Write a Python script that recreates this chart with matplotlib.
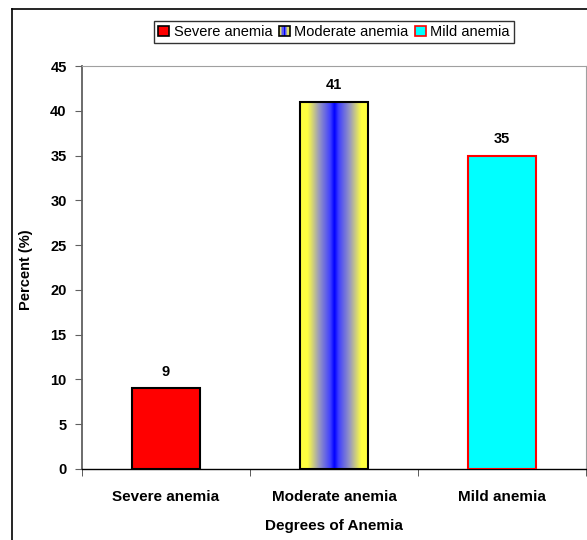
import numpy as np
import matplotlib
matplotlib.use("Agg")
import matplotlib.pyplot as plt
from matplotlib.patches import Rectangle
from matplotlib.lines import Line2D
from matplotlib.legend_handler import HandlerBase
from matplotlib.colors import LinearSegmentedColormap

categories = ["Severe anemia", "Moderate anemia", "Mild anemia"]
values = [9, 41, 35]
yticks = [0, 5, 10, 15, 20, 25, 30, 35, 40, 45]

plt.rcParams['font.family'] = ['Liberation Sans', 'DejaVu Sans']

fig = plt.figure(figsize=(5.87, 5.40), dpi=100)
ax = fig.add_axes([82/587, (540-469)/540, 504/587, (469-66)/540])

x = np.arange(len(categories))
width = 0.41
yellow = (1.0, 1.0, 0.25)
blue = (0.0, 0.0, 1.0)
cmap = LinearSegmentedColormap.from_list(
    "yb", [(0.0, blue), (0.12, (0.25, 0.25, 1.0)), (0.45, (0.6, 0.6, 0.75)),
           (0.78, yellow), (1.0, yellow)], N=256)

bars = ax.bar(x, values, width=width, zorder=3)
bars[0].set_facecolor('#ff0000'); bars[0].set_edgecolor('black'); bars[0].set_linewidth(1.5)
bars[1].set_facecolor('none'); bars[1].set_edgecolor('black'); bars[1].set_linewidth(1.5)
bars[2].set_facecolor('#00ffff'); bars[2].set_edgecolor('#ff0000'); bars[2].set_linewidth(1.5)

# gradient fill for moderate bar
b = bars[1]
x0, w, h = b.get_x(), b.get_width(), b.get_height()
t = np.abs(np.linspace(-1, 1, 256))[None, :]
im = ax.imshow(t, cmap=cmap, vmin=0, vmax=1, aspect='auto',
               extent=[x0, x0 + w, 0, h], zorder=2, interpolation='bilinear')
im.set_clip_path(b)

for xi, v in zip(x, values):
    ax.annotate(str(v), (xi, v), xytext=(0, 7), textcoords='offset points',
                ha='center', va='bottom', fontsize=10.5, fontweight='bold')

ax.set_xlim(-0.5, len(categories) - 0.5)
ax.set_ylim(0, 45)
ax.set_yticks(yticks)
ax.set_xticks(x)
ax.set_xticklabels(categories, fontsize=11, fontweight='bold')
ax.set_xticks(np.arange(len(categories) + 1) - 0.5, minor=True)
ax.tick_params(axis='x', which='major', length=0, pad=15)
ax.tick_params(axis='x', which='minor', length=5, color='#404040', direction='out')
ax.tick_params(axis='y', length=5, color='#606060', labelsize=10.5, pad=6)
for lab in ax.get_yticklabels():
    lab.set_fontweight('bold')

ax.spines['left'].set_color('#606060')
ax.spines['left'].set_linewidth(1.3)
ax.spines['bottom'].set_color('black')
ax.spines['bottom'].set_linewidth(1.0)
ax.spines['top'].set_color('#a0a0a0')
ax.spines['right'].set_color('#a0a0a0')

ax.set_ylabel("Percent (%)", fontsize=10.5, fontweight='bold')
ax.yaxis.set_label_coords(-0.097, (469 - 270) / 403)
ax.set_xlabel("Degrees of Anemia", fontsize=11, fontweight='bold', labelpad=11)


class GradientHandler(HandlerBase):
    def create_artists(self, legend, orig_handle, xdescent, ydescent, width, height, fontsize, trans):
        n = 9
        arts = []
        sw = width / n
        for i in range(n):
            tt = abs((i + 0.5) / n * 2 - 1)
            arts.append(Rectangle((-xdescent + i * sw, -ydescent), sw, height,
                                  facecolor=cmap(tt), edgecolor='none', transform=trans))
        arts.append(Rectangle((-xdescent, -ydescent), width, height, facecolor='none',
                              edgecolor='black', linewidth=1.2, transform=trans))
        return arts


h0 = Rectangle((0, 0), 1, 1, facecolor='#ff0000', edgecolor='black', linewidth=1.2)
h1 = Rectangle((0, 0), 1, 1, facecolor='none', edgecolor='black')
h2 = Rectangle((0, 0), 1, 1, facecolor='#00ffff', edgecolor='#ff0000', linewidth=1.2)
leg = fig.legend([h0, h1, h2], categories, loc='center', bbox_to_anchor=(334/587, 1 - 32/540),
                 ncol=3, fontsize=10.5, frameon=True, fancybox=False, edgecolor='black',
                 handlelength=0.75, handleheight=0.75, handletextpad=0.3, columnspacing=0.45,
                 borderpad=0.3, handler_map={h1: GradientHandler()})
leg.get_frame().set_linewidth(1.0)

# outer chart border (left and top visible)
fig.add_artist(Line2D([12/587, 12/587], [0, 1 - 9/540], transform=fig.transFigure, color='black', lw=1.2))
fig.add_artist(Line2D([12/587, 1], [1 - 9/540, 1 - 9/540], transform=fig.transFigure, color='black', lw=1.2))

fig.savefig("out.png", dpi=100)
